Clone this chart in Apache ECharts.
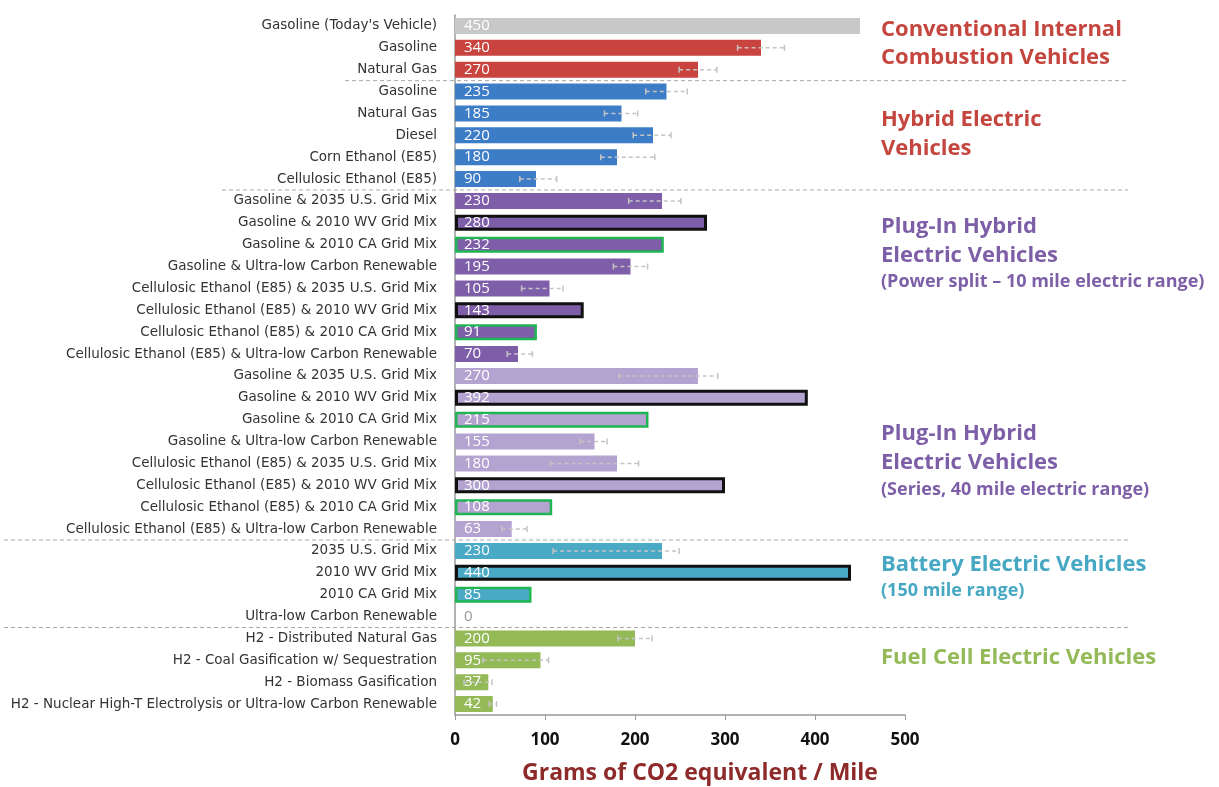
<!DOCTYPE html>
<html>
<head>
<meta charset="utf-8">
<title>Grams of CO2 equivalent / Mile</title>
<script src="https://cdn.jsdelivr.net/npm/echarts@6/dist/echarts.min.js"></script>
<style>
  html, body { margin:0; padding:0; background:#fff; }
  #chart { width:1219px; height:787px; }
</style>
</head>
<body>
<div id="chart"></div>
<script>
  // pathways, top to bottom
  var categories = [
    "Gasoline (Today's Vehicle)", 'Gasoline', 'Natural Gas',
    'Gasoline', 'Natural Gas', 'Diesel', 'Corn Ethanol (E85)', 'Cellulosic Ethanol (E85)',
    'Gasoline & 2035 U.S. Grid Mix', 'Gasoline & 2010 WV Grid Mix', 'Gasoline & 2010 CA Grid Mix',
    'Gasoline & Ultra-low Carbon Renewable', 'Cellulosic Ethanol (E85) & 2035 U.S. Grid Mix',
    'Cellulosic Ethanol (E85) & 2010 WV Grid Mix', 'Cellulosic Ethanol (E85) & 2010 CA Grid Mix',
    'Cellulosic Ethanol (E85) & Ultra-low Carbon Renewable',
    'Gasoline & 2035 U.S. Grid Mix', 'Gasoline & 2010 WV Grid Mix', 'Gasoline & 2010 CA Grid Mix',
    'Gasoline & Ultra-low Carbon Renewable', 'Cellulosic Ethanol (E85) & 2035 U.S. Grid Mix',
    'Cellulosic Ethanol (E85) & 2010 WV Grid Mix', 'Cellulosic Ethanol (E85) & 2010 CA Grid Mix',
    'Cellulosic Ethanol (E85) & Ultra-low Carbon Renewable',
    '2035 U.S. Grid Mix', '2010 WV Grid Mix', '2010 CA Grid Mix', 'Ultra-low Carbon Renewable',
    'H2 - Distributed Natural Gas', 'H2 - Coal Gasification w/ Sequestration',
    'H2 - Biomass Gasification', 'H2 - Nuclear High-T Electrolysis or Ultra-low Carbon Renewable'
  ];
  var groups = [
    'ICE','ICE','ICE',
    'HEV','HEV','HEV','HEV','HEV',
    'PHEV10','PHEV10','PHEV10','PHEV10','PHEV10','PHEV10','PHEV10','PHEV10',
    'PHEV40','PHEV40','PHEV40','PHEV40','PHEV40','PHEV40','PHEV40','PHEV40',
    'BEV','BEV','BEV','BEV',
    'FCEV','FCEV','FCEV','FCEV'
  ];
  var values = [450, 340, 270, 235, 185, 220, 180, 90,
    230, 280, 232, 195, 105, 143, 91, 70,
    270, 392, 215, 155, 180, 300, 108, 63,
    230, 440, 85, 0,
    200, 95, 37, 42];
  var errLow = [null, 314, 249, 212, 166, 198, 162, 72,
    193, null, null, 176, 74, null, null, 58,
    182, null, null, 139, 106, null, null, 52,
    109, null, null, null,
    181, 31, 10, 38];
  var errHigh = [null, 366, 291, 258, 203, 240, 222, 113,
    251, null, null, 214, 120, null, null, 86,
    292, null, null, 169, 204, null, null, 80,
    249, null, null, null,
    219, 104, 41, 46];
  // rows after which a group ends
  var groupEnds = [2, 7, 23, 27];

  var colors = {
    ICE: '#c9433f', HEV: '#3d7cc6', PHEV10: '#7f5ea9',
    PHEV40: '#b3a3d0', BEV: '#4aa9c5', FCEV: '#94ba58'
  };

  var barData = values.map(function (v, i) {
    var name = categories[i];
    var item = { value: v, itemStyle: { color: colors[groups[i]] } };
    if (name.indexOf("Today's") >= 0) item.itemStyle.color = '#c8c8c8';
    if (name.indexOf('2010 WV') >= 0) {
      item.itemStyle.borderColor = '#111';
      item.itemStyle.borderWidth = 3;
    } else if (name.indexOf('2010 CA') >= 0) {
      item.itemStyle.borderColor = '#1fb552';
      item.itemStyle.borderWidth = 2.5;
    }
    if (v === 0) item.label = { color: '#999' };
    return item;
  });

  var errData = [];
  for (var i = 0; i < values.length; i++) {
    if (errLow[i] != null) errData.push([i, errLow[i], errHigh[i]]);
  }

  var sepStart = { 2: 345, 7: 222, 23: 4, 27: 4 };

  var chart = echarts.init(document.getElementById('chart'));

  function heading(x, y, text, size, color) {
    return {
      type: 'text', x: x, y: y,
      style: {
        text: text, fill: color, verticalAlign: 'middle',
        font: 'bold ' + size + 'px "Open Sans", sans-serif'
      }
    };
  }

  chart.setOption({
    animation: false,
    backgroundColor: '#fff',
    grid: { left: 455, right: 314, top: 15, bottom: 72 },
    xAxis: {
      type: 'value', min: 0, max: 500, interval: 100,
      splitLine: { show: false },
      axisLine: { show: true, lineStyle: { color: '#9a9a9a', width: 1.5 } },
      axisTick: { show: true, length: 5, lineStyle: { color: '#9a9a9a' } },
      axisLabel: {
        margin: 17, color: '#111', fontSize: 17, fontWeight: 'bold',
        fontFamily: '"Open Sans", sans-serif'
      }
    },
    yAxis: {
      type: 'category', inverse: true, data: categories,
      axisLine: { show: true, lineStyle: { color: '#9a9a9a', width: 1.5 } },
      axisTick: { show: false },
      axisLabel: {
        interval: 0, margin: 18, color: '#333', fontSize: 13.5,
        fontFamily: '"DejaVu Sans", sans-serif'
      }
    },
    graphic: [
      heading(881, 30, 'Conventional Internal', 22, '#c4463f'),
      heading(881, 58, 'Combustion Vehicles', 22, '#c4463f'),
      heading(881, 120, 'Hybrid Electric', 22, '#c4463f'),
      heading(881, 149, 'Vehicles', 22, '#c4463f'),
      heading(881, 227, 'Plug-In Hybrid', 22, '#7d5fa8'),
      heading(881, 256, 'Electric Vehicles', 22, '#7d5fa8'),
      heading(881, 282, '(Power split \u2013 10 mile electric range)', 18, '#7d5fa8'),
      heading(881, 434, 'Plug-In Hybrid', 22, '#7d5fa8'),
      heading(881, 463, 'Electric Vehicles', 22, '#7d5fa8'),
      heading(881, 490, '(Series, 40 mile electric range)', 18, '#7d5fa8'),
      heading(881, 565, 'Battery Electric Vehicles', 22, '#47a8c4'),
      heading(881, 591, '(150 mile range)', 18, '#47a8c4'),
      heading(881, 658, 'Fuel Cell Electric Vehicles', 22, '#94ba58'),
      {
        type: 'text', x: 700, y: 773,
        style: {
          text: 'Grams of CO2 equivalent / Mile', fill: '#8e2a2a',
          align: 'center', verticalAlign: 'middle',
          font: 'bold 23px "Open Sans", sans-serif'
        }
      }
    ],
    series: [
      {
        type: 'bar', data: barData, barWidth: 16,
        label: {
          show: true, position: 'insideLeft', distance: 9,
          color: '#fff', fontSize: 15,
          fontFamily: '"Open Sans", sans-serif'
        }
      },
      {
        type: 'custom', z: 5,
        encode: { x: [1, 2], y: 0 },
        data: errData,
        renderItem: function (params, api) {
          var idx = api.value(0);
          var p1 = api.coord([api.value(1), idx]);
          var p2 = api.coord([api.value(2), idx]);
          var st = { stroke: '#c4c4c4', lineWidth: 1.5 };
          return {
            type: 'group',
            children: [
              { type: 'line', shape: { x1: p1[0], y1: p1[1], x2: p2[0], y2: p2[1] },
                style: { stroke: '#c4c4c4', lineWidth: 1.5, lineDash: [4, 3] } },
              { type: 'line', shape: { x1: p1[0], y1: p1[1] - 3, x2: p1[0], y2: p1[1] + 3 }, style: st },
              { type: 'line', shape: { x1: p2[0], y1: p2[1] - 3, x2: p2[0], y2: p2[1] + 3 }, style: st }
            ]
          };
        }
      },
      {
        type: 'custom', z: 1, silent: true,
        encode: { y: 0 },
        data: groupEnds.map(function (g) { return [g]; }),
        renderItem: function (params, api) {
          var g = api.value(0);
          var y = (api.coord([0, g])[1] + api.coord([0, g + 1])[1]) / 2;
          return {
            type: 'line',
            shape: { x1: sepStart[g], y1: y, x2: 1128, y2: y },
            style: { stroke: '#a8a8a8', lineWidth: 1, lineDash: [4, 3] }
          };
        }
      }
    ]
  });
</script>
</body>
</html>
